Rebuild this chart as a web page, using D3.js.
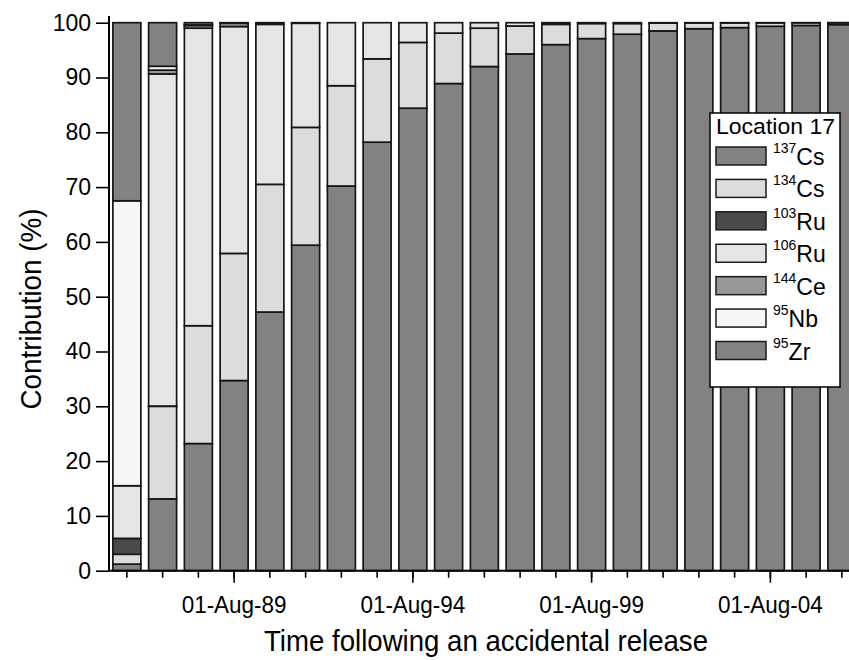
<!DOCTYPE html>
<html><head><meta charset="utf-8">
<script src="https://cdn.jsdelivr.net/npm/d3@7"></script>
<style>
body{margin:0;background:#fff}
svg{display:block}
text{font-family:Arial,"Liberation Sans",Helvetica,sans-serif;fill:#000}
</style>
</head><body>
<svg id="chart" width="849" height="660"></svg>
<script>
// ---- data ----
const years = [1986,1987,1988,1989,1990,1991,1992,1993,1994,1995,1996,1997,1998,1999,2000,2001,2002,2003,2004,2005,2006];
const cs137 = [1.2,13.1,23.2,34.7,47.2,59.4,70.2,78.2,84.4,88.9,92.0,94.3,96.0,97.1,97.9,98.5,98.9,99.1,99.35,99.5,99.65];
const cs134 = [1.8,16.9,21.5,23.2,23.3,21.5,18.3,15.2,12.0,9.2,7.0,5.1,3.7,2.75,1.95,1.42,1.05,0.85,0.62,0.48,0.34];
const ru103 = [2.9,0.05,0,0,0,0,0,0,0,0,0,0,0,0,0,0,0,0,0,0,0];
const ru106 = [9.6,60.6,54.3,41.4,29.2,19.0,11.5,6.6,3.6,1.9,1.0,0.6,0.3,0.15,0.15,0.08,0.05,0.05,0.03,0.02,0.01];
const ce144 = [0,0.7,0.5,0.6,0.3,0.1,0,0,0,0,0,0,0,0,0,0,0,0,0,0,0];
const nb95  = [52.0,0.7,0.1,0.05,0,0,0,0,0,0,0,0,0,0,0,0,0,0,0,0,0];
const zr95  = [32.5,7.95,0.4,0.05,0,0,0,0,0,0,0,0,0,0,0,0,0,0,0,0,0];

const seriesKeys = ["137Cs","134Cs","103Ru","106Ru","144Ce","95Nb","95Zr"];
const seriesSup  = ["137","134","103","106","144","95","95"];
const seriesSym  = ["Cs","Cs","Ru","Ru","Ce","Nb","Zr"];
const seriesColors = ["#828282","#dcdcdc","#4a4a4a","#e5e5e5","#979797","#f6f6f6","#828282"];
const seriesValues = [cs137,cs134,ru103,ru106,ce144,nb95,zr95];

const majorYears = [1989,1994,1999,2004];
const majorLabels = ["01-Aug-89","01-Aug-94","01-Aug-99","01-Aug-04"];
const yTicks = [0,10,20,30,40,50,60,70,80,90,100];
const legendTitle = "Location 17";
const xTitle = "Time following an accidental release";
const yTitle = "Contribution (%)";

// ---- build table ----
const table = years.map((yr,i)=>{
  const row = {year: yr};
  seriesKeys.forEach((k,j)=>{ row[k] = seriesValues[j][i]; });
  return row;
});

const svg = d3.select("#chart");
svg.append("rect").attr("width",849).attr("height",660).attr("fill","#fff");

const x = d3.scaleBand().domain(years).range([109, 109 + 21*35.75]).paddingInner(0.217).paddingOuter(0.1085);
const y = d3.scaleLinear().domain([0,100]).range([570.7, 22.7]);

const stack = d3.stack().keys(seriesKeys)(table);

const g = svg.append("g");
stack.forEach((layer,j)=>{
  g.append("g").selectAll("rect")
    .data(layer.filter(d=>d[1]-d[0] > 0))
    .join("rect")
    .attr("x", d=>x(d.data.year))
    .attr("width", x.bandwidth())
    .attr("y", d=>y(d[1]))
    .attr("height", d=>y(d[0]) - y(d[1]))
    .attr("fill", seriesColors[j])
    .attr("stroke", "#161616")
    .attr("stroke-width", 1.7);
});

// ---- axes ----
const cx = d=>x(d) + x.bandwidth()/2;
const minorAxis = svg.append("g").attr("transform",`translate(0,${y(0)})`);
minorAxis.selectAll("line").data(years).join("line")
  .attr("x1",cx).attr("x2",cx).attr("y1",0).attr("y2",7)
  .attr("stroke","#000").attr("stroke-width",1.6);
const majorAxis = svg.append("g").attr("transform",`translate(0,${y(0)})`);
majorAxis.selectAll("line").data(majorYears).join("line")
  .attr("x1",cx).attr("x2",cx).attr("y1",0).attr("y2",12)
  .attr("stroke","#000").attr("stroke-width",1.6);
majorAxis.selectAll("text").data(majorYears).join("text")
  .attr("x",cx).attr("y",42).attr("text-anchor","middle")
  .attr("font-size",23).attr("textLength",105).attr("lengthAdjust","spacingAndGlyphs")
  .text((d,i)=>majorLabels[i]);
svg.append("line").attr("x1",x.range()[0]).attr("x2",849).attr("y1",y(0)).attr("y2",y(0))
  .attr("stroke","#000").attr("stroke-width",2);

const yAxis = d3.axisLeft(y).tickValues(yTicks).tickSize(13).tickPadding(5).tickSizeOuter(0);
const ya = svg.append("g").attr("transform",`translate(109,0)`).call(yAxis);
ya.select(".domain").remove();
ya.selectAll(".tick line").attr("stroke","#000").attr("stroke-width",1.6);
ya.selectAll(".tick text").attr("font-size",23).attr("font-family",'Arial,"Liberation Sans",sans-serif').attr("fill","#000");
svg.append("line").attr("x1",109).attr("x2",109).attr("y1",y(101.2)).attr("y2",y(0)+1)
  .attr("stroke","#000").attr("stroke-width",2);

// titles
svg.append("text").attr("x",486).attr("y",651).attr("text-anchor","middle")
  .attr("font-size",30).attr("textLength",444).attr("lengthAdjust","spacingAndGlyphs").text(xTitle);
svg.append("text").attr("transform","translate(41,309) rotate(-90)").attr("text-anchor","middle")
  .attr("font-size",30).attr("textLength",201).attr("lengthAdjust","spacingAndGlyphs").text(yTitle);

// ---- legend ----
const lg = svg.append("g");
lg.append("rect").attr("x",710).attr("y",113).attr("width",130).attr("height",274)
  .attr("fill","#fff").attr("stroke","#000").attr("stroke-width",1.5);
lg.append("text").attr("x",716).attr("y",134).attr("font-size",22)
  .attr("textLength",119).attr("lengthAdjust","spacingAndGlyphs").text(legendTitle);
const ly = d3.scaleLinear().domain([0,6]).range([156,350.5]);
const rows = lg.selectAll("g.item").data(seriesKeys).join("g").attr("class","item")
  .attr("transform",(d,i)=>`translate(0,${ly(i)})`);
rows.append("rect").attr("x",716).attr("y",-9).attr("width",50).attr("height",18)
  .attr("fill",(d,i)=>seriesColors[i]).attr("stroke","#1a1a1a").attr("stroke-width",1.5);
const lt = rows.append("text").attr("x",773).attr("y",9);
lt.append("tspan").attr("font-size",14).attr("dy",-12).text((d,i)=>seriesSup[i]);
lt.append("tspan").attr("font-size",23).attr("dy",12).text((d,i)=>seriesSym[i]);
</script>
</body></html>
